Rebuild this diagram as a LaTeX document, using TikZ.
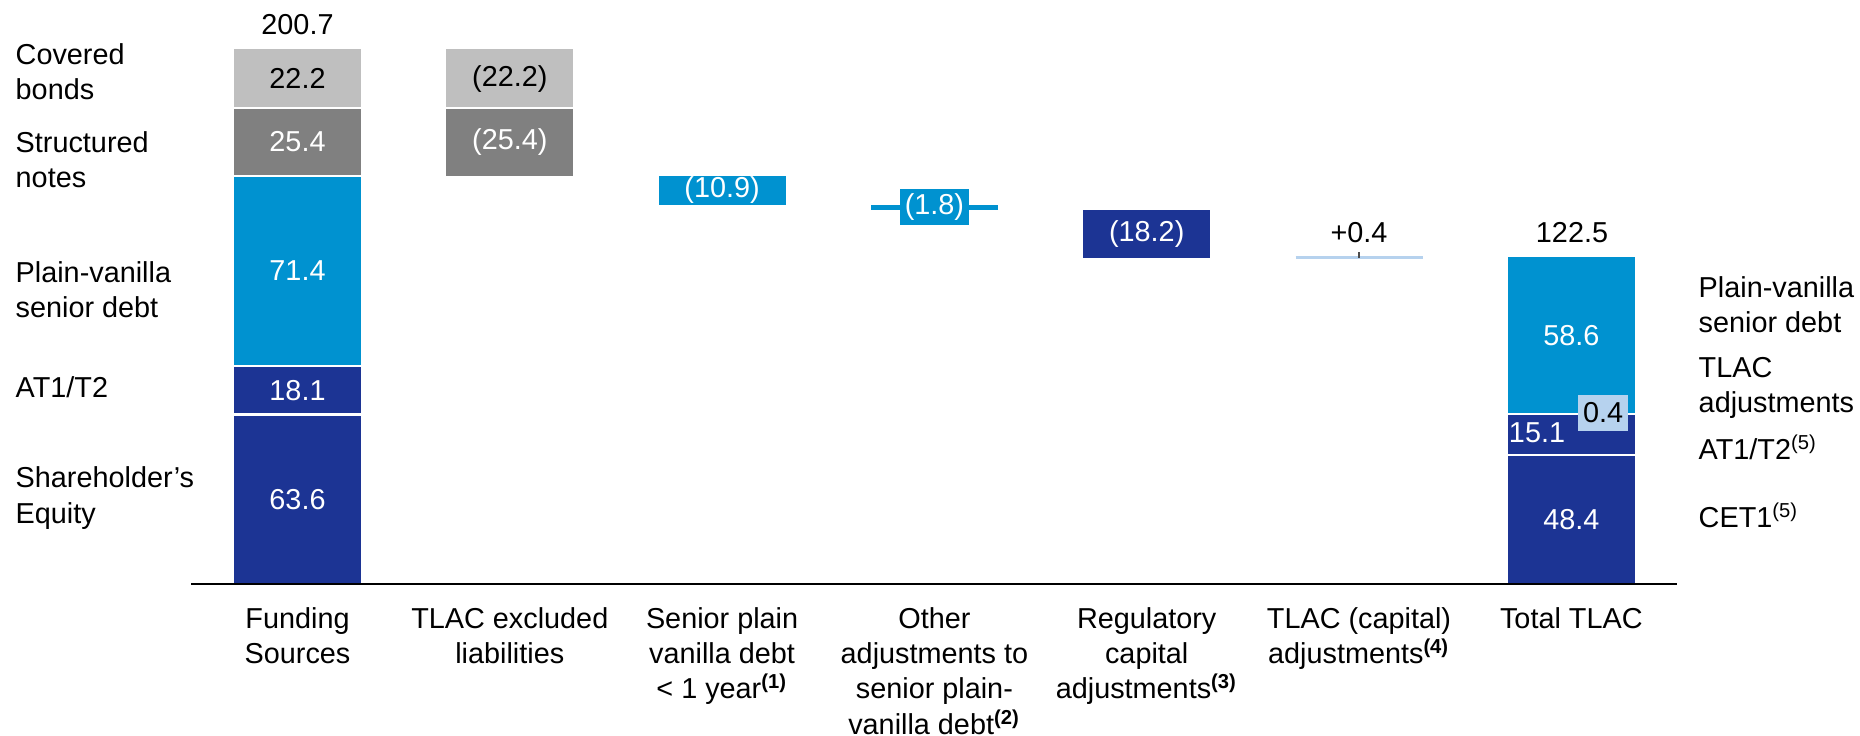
\documentclass[tikz,border=0pt]{standalone}
\usepackage{fontspec}
\setmainfont{Liberation Sans}

\definecolor{navy}{HTML}{1C3494}
\definecolor{sky}{HTML}{0092D0}
\definecolor{pale}{HTML}{B6D2EE}
\definecolor{lgray}{HTML}{BFBFBF}
\definecolor{dgray}{HTML}{808080}

\tikzset{
  txt/.style={font=\fontsize{8.2}{10}\selectfont, inner sep=0pt},
  val/.style={txt, white},
  cat/.style={txt, align=center, anchor=north},
  side/.style={txt, align=left, anchor=west},
  sep/.style={white, line width=0.6pt}
}

\begin{document}
\begin{tikzpicture}

    % Scale: one unit of value is \vu cm, half a bar is \bw cm
    \def\vu{0.02666}
    \def\bw{0.635}

    % Column centres
    \def\xA{2.975}
    \def\xB{5.098}
    \def\xC{7.221}
    \def\xD{9.344}
    \def\xE{11.467}
    \def\xF{13.590}
    \def\xG{15.713}

    \useasboundingbox (0,-1.51) rectangle (18.6,5.84);

    % 1. Funding sources, stacked
    \fill[navy]  ({\xA-\bw},0) rectangle ({\xA+\bw},{81.7*\vu});
    \fill[sky]   ({\xA-\bw},{81.7*\vu}) rectangle ({\xA+\bw},{153.1*\vu});
    \fill[dgray] ({\xA-\bw},{153.1*\vu}) rectangle ({\xA+\bw},{178.5*\vu});
    \fill[lgray] ({\xA-\bw},{178.5*\vu}) rectangle ({\xA+\bw},{200.7*\vu});
    \foreach \h in {63.6,81.7,153.1,178.5}
        \draw[sep] ({\xA-\bw},{\h*\vu}) -- ({\xA+\bw},{\h*\vu});

    % 2. Steps of the waterfall
    \fill[dgray] ({\xB-\bw},{153.1*\vu}) rectangle ({\xB+\bw},{178.5*\vu});
    \fill[lgray] ({\xB-\bw},{178.5*\vu}) rectangle ({\xB+\bw},{200.7*\vu});
    \draw[sep] ({\xB-\bw},{178.5*\vu}) -- ({\xB+\bw},{178.5*\vu});
    \fill[sky]   ({\xC-\bw},{142.2*\vu}) rectangle ({\xC+\bw},{153.1*\vu});
    \fill[sky]   ({\xD-\bw},{140.4*\vu}) rectangle ({\xD+\bw},{142.2*\vu});
    \fill[navy]  ({\xE-\bw},{122.2*\vu}) rectangle ({\xE+\bw},{140.4*\vu});
    \draw[pale, line width=0.7pt] ({\xF-\bw},{122.4*\vu}) -- ({\xF+\bw},{122.4*\vu});
    \draw[black!70, line width=0.3pt] (\xF,{122.4*\vu}) -- (\xF,{124.6*\vu});

    % 3. Total TLAC, stacked
    \fill[navy] ({\xG-\bw},0) rectangle ({\xG+\bw},{63.5*\vu});
    \fill[pale] ({\xG-\bw},{63.5*\vu}) rectangle ({\xG+\bw},{63.9*\vu});
    \fill[sky]  ({\xG-\bw},{63.9*\vu}) rectangle ({\xG+\bw},{122.5*\vu});
    \foreach \h in {48.4,63.9}
        \draw[sep] ({\xG-\bw},{\h*\vu}) -- ({\xG+\bw},{\h*\vu});

    % 4. Axis
    \draw[line width=0.7pt] (1.91,0) -- (16.77,0);

    % 5. Values
    \node[txt] (tot1) at (\xA,5.59) {200.7};
    \node[txt] (cb1) at (\xA,{189.6*\vu}) {22.2};
    \node[val] (sn1) at (\xA,{165.8*\vu}) {25.4};
    \node[val] (pv1) at (\xA,{117.4*\vu}) {71.4};
    \node[val] (at1) at (\xA,{72.65*\vu}) {18.1};
    \node[val] (eq1) at (\xA,{31.8*\vu}) {63.6};
    \node[txt] (cb2) at (\xB,{189.6*\vu}) {(22.2)};
    \node[val] (sn2) at (\xB,{165.8*\vu}) {(25.4)};
    \node[val] (sv) at (\xC,{147.65*\vu}) {(10.9)};
    \node[val, fill=sky, inner xsep=1.4pt, minimum height=0.36cm] (oa) at (\xD,{141.3*\vu}) {(1.8)};
    \node[val] (rc) at (\xE,{131.3*\vu}) {(18.2)};
    \node[txt] (ca) at (\xF,3.51) {+0.4};
    \node[txt] (tot2) at (15.72,3.51) {122.5};
    \node[val] (pv2) at (\xG,{93.2*\vu}) {58.6};
    \node[val] (at2) at (15.37,1.51) {15.1};
    \node[txt, fill=pale, inner xsep=1.4pt, minimum height=0.36cm] (adj) at (16.03,1.71) {0.4};
    \node[val] (ce2) at (\xG,{24.2*\vu}) {48.4};

    % 6. Row labels, left and right
    \node[side] (lcb) at (0.15,5.12) {Covered\\bonds};
    \node[side] (lsn) at (0.15,4.24) {Structured\\notes};
    \node[side] (lpv) at (0.15,2.94) {Plain-vanilla\\senior debt};
    \node[side] (lat) at (0.15,1.97) {AT1/T2};
    \node[side] (leq) at (0.15,0.86) {Shareholder’s\\Equity};
    \node[side] (rpv) at (16.98,2.79) {Plain-vanilla\\senior debt};
    \node[side] (rad) at (16.98,1.96) {TLAC\\adjustments};
    \node[side] (rat) at (16.98,1.37) {AT1/T2\textsuperscript{(5)}};
    \node[side] (rce) at (16.98,0.69) {CET1\textsuperscript{(5)}};

    % 7. Column captions
    \node[cat] (capA) at (\xA,-0.23) {Funding\\Sources};
    \node[cat] (capB) at (\xB,-0.23) {TLAC excluded\\liabilities};
    \node[cat] (capC) at (\xC,-0.23) {Senior plain\\vanilla debt\\< 1 year\textsuperscript{\textbf{(1)}}};
    \node[cat] (capD) at (\xD,-0.23) {Other\\adjustments to\\senior plain-\\vanilla debt\textsuperscript{\textbf{(2)}}};
    \node[cat] (capE) at (\xE,-0.23) {Regulatory\\capital\\adjustments\textsuperscript{\textbf{(3)}}};
    \node[cat] (capF) at (\xF,-0.23) {TLAC (capital)\\adjustments\textsuperscript{\textbf{(4)}}};
    \node[cat] (capG) at (\xG,-0.23) {Total TLAC};

\end{tikzpicture}
\end{document}
